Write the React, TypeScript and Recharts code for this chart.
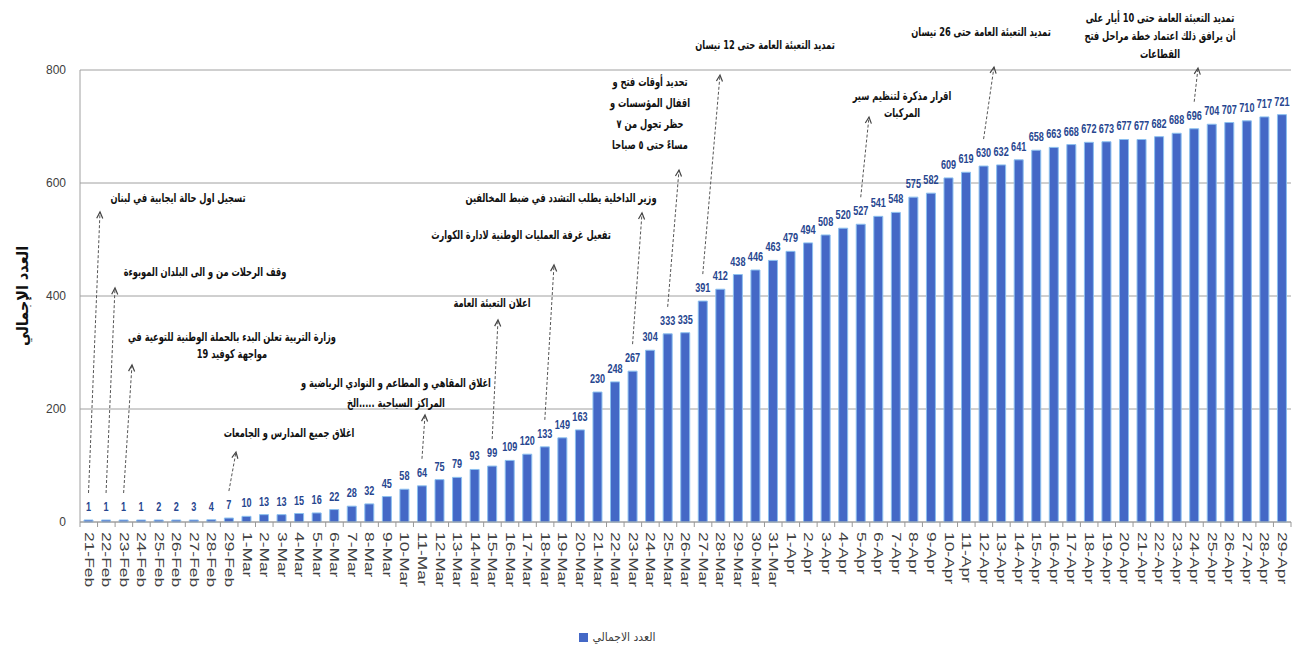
import React from "react";
import {
  BarChart,
  Bar,
  XAxis,
  YAxis,
  CartesianGrid,
  Legend,
  LabelList,
  Label,
} from "recharts";

const dates = [
  "21-Feb", "22-Feb", "23-Feb", "24-Feb", "25-Feb", "26-Feb", "27-Feb", "28-Feb", "29-Feb",
  "1-Mar", "2-Mar", "3-Mar", "4-Mar", "5-Mar", "6-Mar", "7-Mar", "8-Mar", "9-Mar", "10-Mar",
  "11-Mar", "12-Mar", "13-Mar", "14-Mar", "15-Mar", "16-Mar", "17-Mar", "18-Mar", "19-Mar", "20-Mar",
  "21-Mar", "22-Mar", "23-Mar", "24-Mar", "25-Mar", "26-Mar", "27-Mar", "28-Mar", "29-Mar", "30-Mar",
  "31-Mar", "1-Apr", "2-Apr", "3-Apr", "4-Apr", "5-Apr", "6-Apr", "7-Apr", "8-Apr", "9-Apr",
  "10-Apr", "11-Apr", "12-Apr", "13-Apr", "14-Apr", "15-Apr", "16-Apr", "17-Apr", "18-Apr", "19-Apr",
  "20-Apr", "21-Apr", "22-Apr", "23-Apr", "24-Apr", "25-Apr", "26-Apr", "27-Apr", "28-Apr", "29-Apr",
];

const totals = [
  1, 1, 1, 1, 2, 2, 3, 4, 7,
  10, 13, 13, 15, 16, 22, 28, 32, 45, 58,
  64, 75, 79, 93, 99, 109, 120, 133, 149, 163,
  230, 248, 267, 304, 333, 335, 391, 412, 438, 446,
  463, 479, 494, 508, 520, 527, 541, 548, 575, 582,
  609, 619, 630, 632, 641, 658, 663, 668, 672, 673,
  677, 677, 682, 688, 696, 704, 707, 710, 717, 721,
];

const seriesName = "العدد الاجمالي";
const axisTitle = "العدد الإجمالي";
const yTicks = [0, 200, 400, 600, 800];

// events marked on the chart, by date
const events = [
  { date: "21-Feb", lines: ["تسجيل اول حالة ايجابية في لبنان"] },
  { date: "22-Feb", lines: ["وقف الرحلات من و الى البلدان الموبوءة"] },
  { date: "23-Feb", lines: ["وزارة التربية تعلن البدء بالحملة الوطنية للتوعية في", "مواجهة كوفيد 19"] },
  { date: "29-Feb", lines: ["اغلاق جميع المدارس و الجامعات"] },
  { date: "11-Mar", lines: ["اغلاق المقاهي و المطاعم و النوادي الرياضية و", "المراكز السياحية .....الخ"] },
  { date: "15-Mar", lines: ["اعلان التعبئة العامة"] },
  { date: "18-Mar", lines: ["تفعيل غرفة العمليات الوطنية لادارة الكوارث"] },
  { date: "23-Mar", lines: ["وزير الداخلية يطلب التشدد في ضبط المخالفين"] },
  { date: "25-Mar", lines: ["تحديد أوقات فتح و", "اقفال المؤسسات و", "حظر تجول من ٧", "مساءً حتى ٥ صباحا"] },
  { date: "27-Mar", lines: ["تمديد التعبئة العامة حتى 12 نيسان"] },
  { date: "5-Apr", lines: ["اقرار مذكرة لتنظيم سير", "المركبات"] },
  { date: "12-Apr", lines: ["تمديد التعبئة العامة حتى 26 نيسان"] },
  { date: "24-Apr", lines: ["تمديد التعبئة العامة حتى 10 أيار على", "أن يرافق ذلك اعتماد خطة مراحل فتح", "القطاعات"] },
];

// where each note sits: arrow tip (tx,ty), first line centre (lx,ly), line gap
const noteLayout: Record<string, { tx: number; ty: number; lx: number; ly: number; gap: number }> = {
  "21-Feb": { tx: 100, ty: 212, lx: 178, ly: 198, gap: 18 },
  "22-Feb": { tx: 115, ty: 288, lx: 205, ly: 272, gap: 18 },
  "23-Feb": { tx: 132, ty: 365, lx: 232, ly: 337, gap: 17 },
  "29-Feb": { tx: 236, ty: 452, lx: 289, ly: 433, gap: 18 },
  "11-Mar": { tx: 425, ty: 415, lx: 396, ly: 383, gap: 20 },
  "15-Mar": { tx: 498, ty: 320, lx: 492, ly: 303, gap: 18 },
  "18-Mar": { tx: 554, ty: 265, lx: 521, ly: 235, gap: 18 },
  "23-Mar": { tx: 642, ty: 213, lx: 561, ly: 198, gap: 18 },
  "25-Mar": { tx: 679, ty: 170, lx: 650, ly: 82, gap: 21 },
  "27-Mar": { tx: 720, ty: 75, lx: 765, ly: 45, gap: 18 },
  "5-Apr": { tx: 869, ty: 117, lx: 902, ly: 96, gap: 17 },
  "12-Apr": { tx: 994, ty: 67, lx: 981, ly: 32, gap: 18 },
  "24-Apr": { tx: 1198, ty: 68, lx: 1160, ly: 18, gap: 18 },
};

const chartData = dates.map((d, i) => ({ date: d, value: totals[i] }));

const arabicFont = "'DejaVu Sans Condensed', 'DejaVu Sans', sans-serif";
const numFont = "'Liberation Sans', sans-serif";

function barBox(props: any) {
  const x = props.x ?? props.viewBox?.x;
  const y = props.y ?? props.viewBox?.y;
  const width = props.width ?? props.viewBox?.width ?? 0;
  return { x, y, width };
}

function BarValue(props: any) {
  const { x, y, width } = barBox(props);
  if (x == null || y == null) return null;
  const cx = x + width / 2;
  const cy = y - 9;
  return (
    <text
      transform={`translate(${cx},${cy}) scale(0.7,1)`}
      x={0}
      y={0}
      textAnchor="middle"
      fontFamily={numFont}
      fontWeight="bold"
      fontSize={13}
      fill="#27468F"
    >
      {props.value}
    </text>
  );
}

function EventNote(props: any) {
  const { index } = props;
  const { x, y, width } = barBox(props);
  const date = dates[index];
  const ev = events.find((e) => e.date === date);
  const L = noteLayout[date];
  if (!ev || !L || x == null || y == null) return null;

  const bx = x + width / 2;
  const by = y - 27;
  const ang = Math.atan2(L.ty - by, L.tx - bx);
  const h = 7;
  const s = 0.45;
  const a1x = L.tx - h * Math.cos(ang - s);
  const a1y = L.ty - h * Math.sin(ang - s);
  const a2x = L.tx - h * Math.cos(ang + s);
  const a2y = L.ty - h * Math.sin(ang + s);

  return (
    <g>
      <line x1={bx} y1={by} x2={L.tx} y2={L.ty} stroke="#555" strokeWidth={1} strokeDasharray="3 2" />
      <polyline
        points={`${a1x},${a1y} ${L.tx},${L.ty} ${a2x},${a2y}`}
        fill="none"
        stroke="#444"
        strokeWidth={1.2}
      />
      {ev.lines.map((t, i) => (
        <text
          key={i}
          transform={`translate(${L.lx},${L.ly + i * L.gap}) scale(0.8,1.05)`}
          x={0}
          y={0}
          dy="0.35em"
          textAnchor="middle"
          direction="rtl"
          fontFamily={arabicFont}
          fontWeight="bold"
          fontSize={11.5}
          fill="#111"
        >
          {t}
        </text>
      ))}
    </g>
  );
}

function DateTick(props: any) {
  const { x, y, payload, index, width } = props;
  const step = (width || 1211) / dates.length;
  return (
    <g>
      <line x1={x - step / 2} y1={y - 8} x2={x - step / 2} y2={y - 3} stroke="#999" />
      {index === dates.length - 1 && (
        <line x1={x + step / 2} y1={y - 8} x2={x + step / 2} y2={y - 3} stroke="#999" />
      )}
      <g transform={`translate(${x},${y + 2})`}>
        <text
          transform="rotate(90) scale(1.45,1)"
          x={0}
          y={0}
          dy="0.35em"
          textAnchor="start"
          fontFamily="'Liberation Sans', sans-serif"
          fontSize={12}
          fill="#404040"
        >
          {payload.value}
        </text>
      </g>
    </g>
  );
}

export default function App() {
  return (
    <div style={{ position: "absolute", left: 0, top: 0, background: "#fff" }}>
      <BarChart
        width={1299}
        height={651}
        data={chartData}
        margin={{ top: 70, right: 8, left: 0, bottom: 0 }}
        barSize={9}
      >
        <CartesianGrid vertical={false} stroke="#a0a0a0" />
        <XAxis
          dataKey="date"
          interval={0}
          height={111}
          tickLine={false}
          axisLine={{ stroke: "#a0a0a0" }}
          tick={<DateTick />}
        />
        <YAxis
          width={80}
          domain={[0, 800]}
          ticks={yTicks}
          tickLine={false}
          axisLine={{ stroke: "#a0a0a0" }}
          tickMargin={8}
          tick={{ fill: "#404040", fontSize: 12, fontFamily: numFont }}
        >
          <Label
            content={({ viewBox }: any) => {
              if (!viewBox) return null;
              const cy = viewBox.y + viewBox.height / 2;
              return (
                <text
                  x={22}
                  y={cy}
                  transform={`rotate(-90, 22, ${cy})`}
                  textAnchor="middle"
                  dy="0.35em"
                  direction="rtl"
                  fontFamily={arabicFont}
                  fontWeight="bold"
                  fontSize={16}
                  fill="#111"
                >
                  {axisTitle}
                </text>
              );
            }}
          />
        </YAxis>
        <Legend
          verticalAlign="bottom"
          iconType="square"
          iconSize={9}
          wrapperStyle={{ bottom: 6, left: -23 }}
          formatter={(v: string) => (
            <span style={{ color: "#404040", fontFamily: arabicFont, fontSize: 12 }}>{v}</span>
          )}
        />
        <Bar
          dataKey="value"
          name={seriesName}
          fill="#4468C6"
          stroke="#8cc0ef"
          strokeWidth={1}
          minPointSize={2}
          isAnimationActive={false}
        >
          <LabelList dataKey="value" content={<BarValue />} />
          <LabelList dataKey="value" content={<EventNote />} />
        </Bar>
      </BarChart>
    </div>
  );
}
